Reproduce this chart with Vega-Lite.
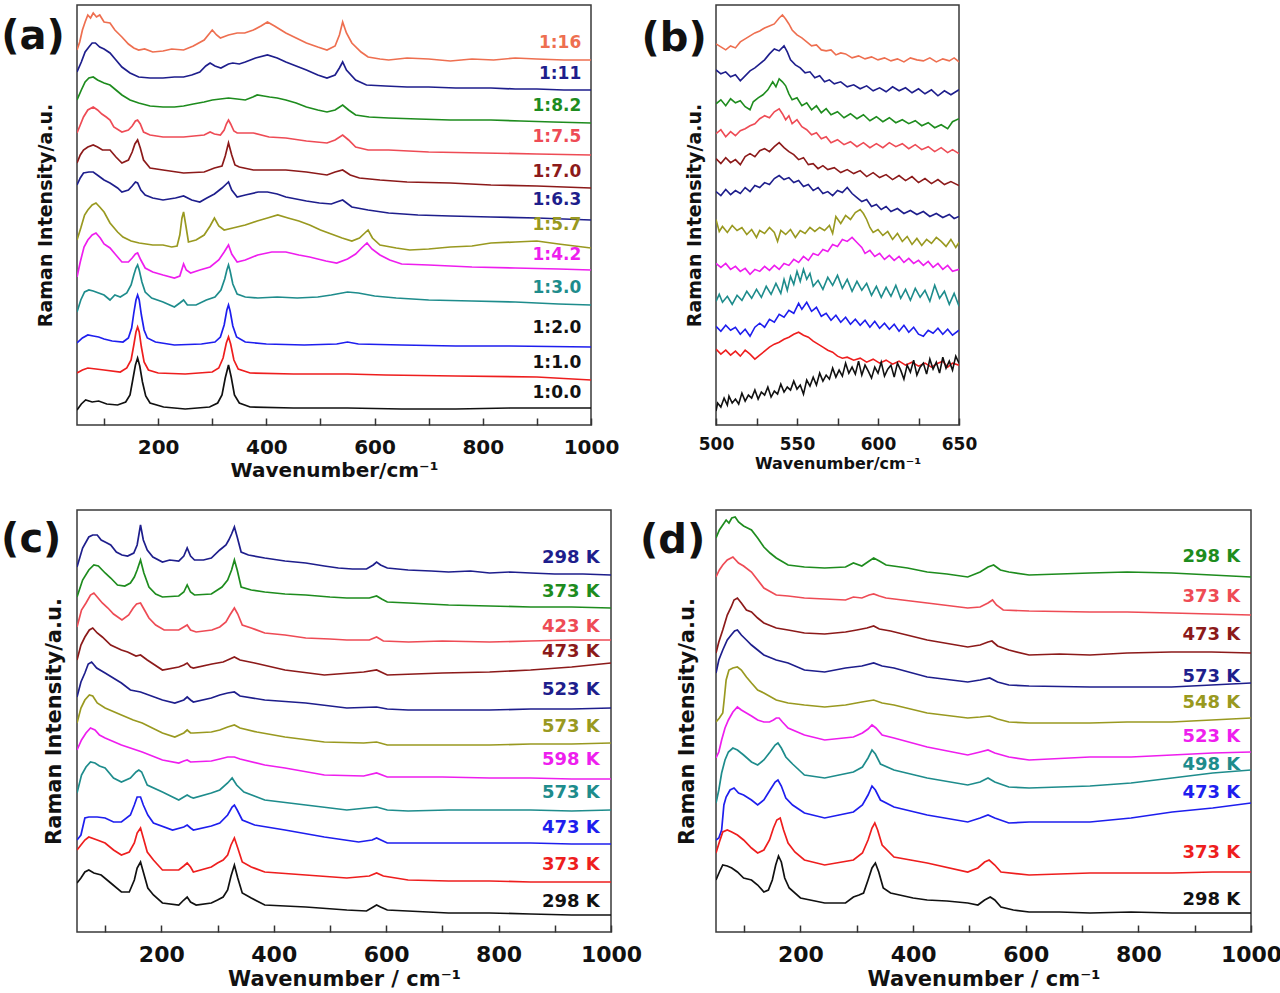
{
"$schema":"https://vega.github.io/schema/vega-lite/v6.json",
"background":"white",
"padding":{"left":0,"top":4,"right":2,"bottom":2},
"columns":2,
"spacing":{"row":85,"column":105},
"bounds":"flush",
"resolve":{"scale":{"stroke":"independent","fill":"independent"}},
"datasets":{
"A":[
{"s":"a01","x":50,"y":375},{"s":"a01","x":55,"y":383},{"s":"a01","x":60,"y":395},{"s":"a01","x":65,"y":403},{"s":"a01","x":70,"y":410},{"s":"a01","x":75,"y":407},{"s":"a01","x":80,"y":412},{"s":"a01","x":86,"y":408},{"s":"a01","x":92,"y":410},{"s":"a01","x":100,"y":403},{"s":"a01","x":111,"y":402},{"s":"a01","x":120,"y":395},{"s":"a01","x":133,"y":388},{"s":"a01","x":145,"y":381},{"s":"a01","x":155,"y":377},{"s":"a01","x":164,"y":375},{"s":"a01","x":175,"y":376},{"s":"a01","x":190,"y":373},{"s":"a01","x":209,"y":374},{"s":"a01","x":225,"y":376},{"s":"a01","x":247,"y":375},{"s":"a01","x":265,"y":379},{"s":"a01","x":285,"y":385},{"s":"a01","x":300,"y":395},{"s":"a01","x":308,"y":390},{"s":"a01","x":315,"y":387},{"s":"a01","x":330,"y":390},{"s":"a01","x":346,"y":392},{"s":"a01","x":360,"y":392},{"s":"a01","x":376,"y":395},{"s":"a01","x":390,"y":399},{"s":"a01","x":402,"y":403},{"s":"a01","x":415,"y":399},{"s":"a01","x":436,"y":392},{"s":"a01","x":455,"y":387},{"s":"a01","x":474,"y":382},{"s":"a01","x":495,"y":378},{"s":"a01","x":512,"y":375},{"s":"a01","x":527,"y":379},{"s":"a01","x":535,"y":390},{"s":"a01","x":541,"y":403},{"s":"a01","x":548,"y":392},{"s":"a01","x":558,"y":382},{"s":"a01","x":575,"y":373},{"s":"a01","x":588,"y":368},{"s":"a01","x":610,"y":366},{"s":"a01","x":626,"y":365},{"s":"a01","x":660,"y":367},{"s":"a01","x":700,"y":366},{"s":"a01","x":740,"y":364},{"s":"a01","x":780,"y":366},{"s":"a01","x":820,"y":365},{"s":"a01","x":860,"y":367},{"s":"a01","x":900,"y":366},{"s":"a01","x":950,"y":365},{"s":"a01","x":1000,"y":365},
{"s":"a02","x":50,"y":353},{"s":"a02","x":58,"y":363},{"s":"a02","x":65,"y":373},{"s":"a02","x":72,"y":378},{"s":"a02","x":78,"y":382},{"s":"a02","x":84,"y":382},{"s":"a02","x":92,"y":378},{"s":"a02","x":100,"y":376},{"s":"a02","x":111,"y":372},{"s":"a02","x":122,"y":365},{"s":"a02","x":133,"y":358},{"s":"a02","x":148,"y":352},{"s":"a02","x":164,"y":348},{"s":"a02","x":185,"y":347},{"s":"a02","x":209,"y":347},{"s":"a02","x":230,"y":348},{"s":"a02","x":247,"y":348},{"s":"a02","x":262,"y":350},{"s":"a02","x":277,"y":353},{"s":"a02","x":288,"y":359},{"s":"a02","x":296,"y":362},{"s":"a02","x":305,"y":359},{"s":"a02","x":316,"y":357},{"s":"a02","x":330,"y":361},{"s":"a02","x":338,"y":362},{"s":"a02","x":350,"y":361},{"s":"a02","x":361,"y":363},{"s":"a02","x":380,"y":367},{"s":"a02","x":402,"y":370},{"s":"a02","x":420,"y":367},{"s":"a02","x":436,"y":363},{"s":"a02","x":455,"y":359},{"s":"a02","x":474,"y":355},{"s":"a02","x":495,"y":350},{"s":"a02","x":512,"y":347},{"s":"a02","x":527,"y":350},{"s":"a02","x":535,"y":357},{"s":"a02","x":541,"y":363},{"s":"a02","x":548,"y":355},{"s":"a02","x":565,"y":345},{"s":"a02","x":585,"y":340},{"s":"a02","x":620,"y":339},{"s":"a02","x":660,"y":338},{"s":"a02","x":700,"y":338},{"s":"a02","x":750,"y":337},{"s":"a02","x":815,"y":337},{"s":"a02","x":860,"y":336},{"s":"a02","x":900,"y":336},{"s":"a02","x":950,"y":335},{"s":"a02","x":1000,"y":335},
{"s":"a03","x":50,"y":325},{"s":"a03","x":58,"y":335},{"s":"a03","x":65,"y":343},{"s":"a03","x":72,"y":347},{"s":"a03","x":80,"y":348},{"s":"a03","x":88,"y":345},{"s":"a03","x":100,"y":342},{"s":"a03","x":111,"y":340},{"s":"a03","x":122,"y":335},{"s":"a03","x":133,"y":330},{"s":"a03","x":148,"y":325},{"s":"a03","x":164,"y":322},{"s":"a03","x":185,"y":319},{"s":"a03","x":209,"y":318},{"s":"a03","x":230,"y":318},{"s":"a03","x":247,"y":319},{"s":"a03","x":265,"y":321},{"s":"a03","x":285,"y":323},{"s":"a03","x":300,"y":325},{"s":"a03","x":315,"y":326},{"s":"a03","x":330,"y":327},{"s":"a03","x":346,"y":326},{"s":"a03","x":361,"y":325},{"s":"a03","x":375,"y":328},{"s":"a03","x":383,"y":330},{"s":"a03","x":395,"y":329},{"s":"a03","x":406,"y":328},{"s":"a03","x":420,"y":327},{"s":"a03","x":436,"y":325},{"s":"a03","x":455,"y":322},{"s":"a03","x":474,"y":318},{"s":"a03","x":495,"y":315},{"s":"a03","x":512,"y":313},{"s":"a03","x":527,"y":315},{"s":"a03","x":541,"y":320},{"s":"a03","x":552,"y":315},{"s":"a03","x":565,"y":310},{"s":"a03","x":590,"y":308},{"s":"a03","x":626,"y":307},{"s":"a03","x":680,"y":306},{"s":"a03","x":740,"y":305},{"s":"a03","x":815,"y":305},{"s":"a03","x":870,"y":304},{"s":"a03","x":930,"y":303},{"s":"a03","x":1000,"y":302},
{"s":"a04","x":50,"y":292},{"s":"a04","x":56,"y":300},{"s":"a04","x":62,"y":308},{"s":"a04","x":70,"y":315},{"s":"a04","x":80,"y":318},{"s":"a04","x":88,"y":315},{"s":"a04","x":96,"y":311},{"s":"a04","x":104,"y":308},{"s":"a04","x":111,"y":305},{"s":"a04","x":118,"y":298},{"s":"a04","x":133,"y":293},{"s":"a04","x":145,"y":295},{"s":"a04","x":152,"y":299},{"s":"a04","x":158,"y":304},{"s":"a04","x":162,"y":305},{"s":"a04","x":167,"y":301},{"s":"a04","x":173,"y":293},{"s":"a04","x":185,"y":290},{"s":"a04","x":209,"y":288},{"s":"a04","x":247,"y":288},{"s":"a04","x":285,"y":290},{"s":"a04","x":296,"y":293},{"s":"a04","x":304,"y":291},{"s":"a04","x":315,"y":290},{"s":"a04","x":322,"y":295},{"s":"a04","x":326,"y":301},{"s":"a04","x":330,"y":305},{"s":"a04","x":334,"y":301},{"s":"a04","x":340,"y":294},{"s":"a04","x":346,"y":292},{"s":"a04","x":376,"y":292},{"s":"a04","x":405,"y":288},{"s":"a04","x":436,"y":287},{"s":"a04","x":474,"y":284},{"s":"a04","x":512,"y":282},{"s":"a04","x":527,"y":285},{"s":"a04","x":541,"y":290},{"s":"a04","x":552,"y":285},{"s":"a04","x":565,"y":278},{"s":"a04","x":588,"y":275},{"s":"a04","x":626,"y":275},{"s":"a04","x":700,"y":273},{"s":"a04","x":800,"y":272},{"s":"a04","x":900,"y":271},{"s":"a04","x":1000,"y":270},
{"s":"a05","x":50,"y":262},{"s":"a05","x":56,"y":270},{"s":"a05","x":62,"y":275},{"s":"a05","x":70,"y":278},{"s":"a05","x":80,"y":280},{"s":"a05","x":88,"y":278},{"s":"a05","x":97,"y":275},{"s":"a05","x":111,"y":275},{"s":"a05","x":122,"y":268},{"s":"a05","x":133,"y":262},{"s":"a05","x":145,"y":265},{"s":"a05","x":152,"y":273},{"s":"a05","x":157,"y":281},{"s":"a05","x":162,"y":285},{"s":"a05","x":167,"y":277},{"s":"a05","x":173,"y":265},{"s":"a05","x":185,"y":257},{"s":"a05","x":209,"y":255},{"s":"a05","x":247,"y":252},{"s":"a05","x":285,"y":253},{"s":"a05","x":304,"y":257},{"s":"a05","x":318,"y":259},{"s":"a05","x":324,"y":269},{"s":"a05","x":330,"y":282},{"s":"a05","x":336,"y":270},{"s":"a05","x":342,"y":260},{"s":"a05","x":350,"y":258},{"s":"a05","x":376,"y":255},{"s":"a05","x":402,"y":255},{"s":"a05","x":436,"y":255},{"s":"a05","x":474,"y":253},{"s":"a05","x":512,"y":250},{"s":"a05","x":527,"y":253},{"s":"a05","x":541,"y":255},{"s":"a05","x":555,"y":250},{"s":"a05","x":572,"y":247},{"s":"a05","x":610,"y":245},{"s":"a05","x":660,"y":243},{"s":"a05","x":740,"y":242},{"s":"a05","x":815,"y":240},{"s":"a05","x":900,"y":239},{"s":"a05","x":1000,"y":237},
{"s":"a06","x":50,"y":240},{"s":"a06","x":56,"y":247},{"s":"a06","x":62,"y":252},{"s":"a06","x":72,"y":253},{"s":"a06","x":80,"y":253},{"s":"a06","x":90,"y":249},{"s":"a06","x":100,"y":245},{"s":"a06","x":111,"y":242},{"s":"a06","x":125,"y":237},{"s":"a06","x":133,"y":233},{"s":"a06","x":145,"y":235},{"s":"a06","x":152,"y":239},{"s":"a06","x":158,"y":243},{"s":"a06","x":162,"y":242},{"s":"a06","x":168,"y":235},{"s":"a06","x":176,"y":230},{"s":"a06","x":190,"y":227},{"s":"a06","x":209,"y":225},{"s":"a06","x":232,"y":227},{"s":"a06","x":247,"y":229},{"s":"a06","x":262,"y":225},{"s":"a06","x":277,"y":223},{"s":"a06","x":290,"y":227},{"s":"a06","x":304,"y":231},{"s":"a06","x":318,"y":237},{"s":"a06","x":326,"y":241},{"s":"a06","x":330,"y":243},{"s":"a06","x":336,"y":235},{"s":"a06","x":346,"y":228},{"s":"a06","x":361,"y":230},{"s":"a06","x":385,"y":233},{"s":"a06","x":402,"y":233},{"s":"a06","x":420,"y":231},{"s":"a06","x":436,"y":228},{"s":"a06","x":474,"y":224},{"s":"a06","x":498,"y":222},{"s":"a06","x":520,"y":221},{"s":"a06","x":530,"y":223},{"s":"a06","x":541,"y":225},{"s":"a06","x":558,"y":218},{"s":"a06","x":588,"y":215},{"s":"a06","x":626,"y":212},{"s":"a06","x":680,"y":210},{"s":"a06","x":740,"y":209},{"s":"a06","x":815,"y":208},{"s":"a06","x":900,"y":207},{"s":"a06","x":1000,"y":205},
{"s":"a07","x":50,"y":185},{"s":"a07","x":57,"y":197},{"s":"a07","x":64,"y":210},{"s":"a07","x":70,"y":215},{"s":"a07","x":78,"y":220},{"s":"a07","x":85,"y":222},{"s":"a07","x":92,"y":218},{"s":"a07","x":100,"y":213},{"s":"a07","x":111,"y":202},{"s":"a07","x":125,"y":193},{"s":"a07","x":135,"y":188},{"s":"a07","x":150,"y":184},{"s":"a07","x":165,"y":182},{"s":"a07","x":190,"y":180},{"s":"a07","x":209,"y":180},{"s":"a07","x":225,"y":178},{"s":"a07","x":235,"y":179},{"s":"a07","x":240,"y":190},{"s":"a07","x":244,"y":207},{"s":"a07","x":247,"y":213},{"s":"a07","x":251,"y":200},{"s":"a07","x":256,"y":183},{"s":"a07","x":270,"y":185},{"s":"a07","x":285,"y":190},{"s":"a07","x":296,"y":199},{"s":"a07","x":304,"y":207},{"s":"a07","x":312,"y":199},{"s":"a07","x":322,"y":195},{"s":"a07","x":338,"y":197},{"s":"a07","x":361,"y":200},{"s":"a07","x":383,"y":204},{"s":"a07","x":402,"y":207},{"s":"a07","x":421,"y":210},{"s":"a07","x":440,"y":207},{"s":"a07","x":460,"y":204},{"s":"a07","x":480,"y":200},{"s":"a07","x":500,"y":195},{"s":"a07","x":520,"y":191},{"s":"a07","x":540,"y":187},{"s":"a07","x":558,"y":184},{"s":"a07","x":572,"y":187},{"s":"a07","x":582,"y":192},{"s":"a07","x":588,"y":195},{"s":"a07","x":596,"y":187},{"s":"a07","x":610,"y":180},{"s":"a07","x":640,"y":177},{"s":"a07","x":665,"y":175},{"s":"a07","x":700,"y":176},{"s":"a07","x":740,"y":178},{"s":"a07","x":780,"y":179},{"s":"a07","x":815,"y":182},{"s":"a07","x":860,"y":183},{"s":"a07","x":900,"y":184},{"s":"a07","x":940,"y":181},{"s":"a07","x":970,"y":179},{"s":"a07","x":1000,"y":177},
{"s":"a08","x":50,"y":148},{"s":"a08","x":56,"y":163},{"s":"a08","x":63,"y":178},{"s":"a08","x":70,"y":185},{"s":"a08","x":78,"y":190},{"s":"a08","x":85,"y":192},{"s":"a08","x":93,"y":187},{"s":"a08","x":100,"y":181},{"s":"a08","x":111,"y":177},{"s":"a08","x":122,"y":170},{"s":"a08","x":133,"y":163},{"s":"a08","x":145,"y":163},{"s":"a08","x":152,"y":167},{"s":"a08","x":158,"y":171},{"s":"a08","x":162,"y":172},{"s":"a08","x":168,"y":165},{"s":"a08","x":176,"y":157},{"s":"a08","x":190,"y":153},{"s":"a08","x":209,"y":150},{"s":"a08","x":230,"y":147},{"s":"a08","x":240,"y":149},{"s":"a08","x":247,"y":161},{"s":"a08","x":252,"y":155},{"s":"a08","x":260,"y":152},{"s":"a08","x":277,"y":155},{"s":"a08","x":296,"y":158},{"s":"a08","x":312,"y":165},{"s":"a08","x":322,"y":173},{"s":"a08","x":330,"y":180},{"s":"a08","x":336,"y":171},{"s":"a08","x":346,"y":163},{"s":"a08","x":361,"y":165},{"s":"a08","x":384,"y":170},{"s":"a08","x":410,"y":173},{"s":"a08","x":436,"y":173},{"s":"a08","x":460,"y":170},{"s":"a08","x":480,"y":168},{"s":"a08","x":510,"y":164},{"s":"a08","x":530,"y":162},{"s":"a08","x":550,"y":166},{"s":"a08","x":565,"y":171},{"s":"a08","x":576,"y":177},{"s":"a08","x":586,"y":182},{"s":"a08","x":595,"y":176},{"s":"a08","x":610,"y":170},{"s":"a08","x":628,"y":165},{"s":"a08","x":650,"y":161},{"s":"a08","x":700,"y":160},{"s":"a08","x":740,"y":159},{"s":"a08","x":780,"y":158},{"s":"a08","x":860,"y":157},{"s":"a08","x":940,"y":156},{"s":"a08","x":1000,"y":155},
{"s":"a09","x":50,"y":113},{"s":"a09","x":57,"y":125},{"s":"a09","x":64,"y":133},{"s":"a09","x":72,"y":135},{"s":"a09","x":80,"y":134},{"s":"a09","x":90,"y":132},{"s":"a09","x":100,"y":130},{"s":"a09","x":111,"y":125},{"s":"a09","x":120,"y":130},{"s":"a09","x":130,"y":128},{"s":"a09","x":142,"y":132},{"s":"a09","x":150,"y":140},{"s":"a09","x":155,"y":150},{"s":"a09","x":159,"y":157},{"s":"a09","x":162,"y":160},{"s":"a09","x":165,"y":155},{"s":"a09","x":170,"y":143},{"s":"a09","x":176,"y":133},{"s":"a09","x":188,"y":127},{"s":"a09","x":209,"y":123},{"s":"a09","x":230,"y":118},{"s":"a09","x":240,"y":122},{"s":"a09","x":247,"y":125},{"s":"a09","x":254,"y":120},{"s":"a09","x":270,"y":120},{"s":"a09","x":289,"y":125},{"s":"a09","x":305,"y":128},{"s":"a09","x":316,"y":135},{"s":"a09","x":323,"y":146},{"s":"a09","x":327,"y":155},{"s":"a09","x":330,"y":160},{"s":"a09","x":333,"y":154},{"s":"a09","x":338,"y":141},{"s":"a09","x":346,"y":131},{"s":"a09","x":361,"y":128},{"s":"a09","x":384,"y":127},{"s":"a09","x":420,"y":128},{"s":"a09","x":457,"y":127},{"s":"a09","x":495,"y":128},{"s":"a09","x":520,"y":130},{"s":"a09","x":550,"y":133},{"s":"a09","x":570,"y":132},{"s":"a09","x":600,"y":129},{"s":"a09","x":640,"y":127},{"s":"a09","x":700,"y":125},{"s":"a09","x":780,"y":124},{"s":"a09","x":860,"y":123},{"s":"a09","x":940,"y":121},{"s":"a09","x":1000,"y":120},
{"s":"a10","x":50,"y":82},{"s":"a10","x":60,"y":87},{"s":"a10","x":70,"y":90},{"s":"a10","x":80,"y":89},{"s":"a10","x":90,"y":88},{"s":"a10","x":100,"y":86},{"s":"a10","x":115,"y":84},{"s":"a10","x":135,"y":83},{"s":"a10","x":145,"y":87},{"s":"a10","x":151,"y":97},{"s":"a10","x":155,"y":112},{"s":"a10","x":159,"y":125},{"s":"a10","x":162,"y":130},{"s":"a10","x":165,"y":125},{"s":"a10","x":169,"y":110},{"s":"a10","x":174,"y":95},{"s":"a10","x":180,"y":87},{"s":"a10","x":195,"y":83},{"s":"a10","x":230,"y":80},{"s":"a10","x":280,"y":81},{"s":"a10","x":305,"y":83},{"s":"a10","x":315,"y":88},{"s":"a10","x":322,"y":100},{"s":"a10","x":327,"y":115},{"s":"a10","x":330,"y":120},{"s":"a10","x":333,"y":114},{"s":"a10","x":338,"y":99},{"s":"a10","x":345,"y":88},{"s":"a10","x":361,"y":83},{"s":"a10","x":400,"y":81},{"s":"a10","x":470,"y":80},{"s":"a10","x":530,"y":81},{"s":"a10","x":550,"y":83},{"s":"a10","x":570,"y":81},{"s":"a10","x":650,"y":80},{"s":"a10","x":750,"y":79},{"s":"a10","x":850,"y":79},{"s":"a10","x":1000,"y":78},
{"s":"a11","x":50,"y":52},{"s":"a11","x":60,"y":55},{"s":"a11","x":70,"y":57},{"s":"a11","x":85,"y":56},{"s":"a11","x":100,"y":55},{"s":"a11","x":130,"y":53},{"s":"a11","x":142,"y":57},{"s":"a11","x":150,"y":65},{"s":"a11","x":155,"y":80},{"s":"a11","x":159,"y":93},{"s":"a11","x":162,"y":98},{"s":"a11","x":165,"y":93},{"s":"a11","x":169,"y":78},{"s":"a11","x":174,"y":63},{"s":"a11","x":182,"y":55},{"s":"a11","x":200,"y":52},{"s":"a11","x":250,"y":51},{"s":"a11","x":300,"y":53},{"s":"a11","x":312,"y":57},{"s":"a11","x":320,"y":67},{"s":"a11","x":326,"y":82},{"s":"a11","x":330,"y":88},{"s":"a11","x":334,"y":81},{"s":"a11","x":340,"y":65},{"s":"a11","x":348,"y":56},{"s":"a11","x":370,"y":52},{"s":"a11","x":450,"y":51},{"s":"a11","x":550,"y":51},{"s":"a11","x":620,"y":50},{"s":"a11","x":750,"y":49},{"s":"a11","x":900,"y":48},{"s":"a11","x":1000,"y":45},
{"s":"a12","x":50,"y":15},{"s":"a12","x":58,"y":21},{"s":"a12","x":66,"y":25},{"s":"a12","x":78,"y":23},{"s":"a12","x":90,"y":24},{"s":"a12","x":105,"y":21},{"s":"a12","x":125,"y":20},{"s":"a12","x":140,"y":23},{"s":"a12","x":148,"y":30},{"s":"a12","x":153,"y":45},{"s":"a12","x":158,"y":60},{"s":"a12","x":162,"y":67},{"s":"a12","x":166,"y":59},{"s":"a12","x":171,"y":43},{"s":"a12","x":177,"y":29},{"s":"a12","x":185,"y":22},{"s":"a12","x":210,"y":18},{"s":"a12","x":250,"y":16},{"s":"a12","x":295,"y":18},{"s":"a12","x":310,"y":22},{"s":"a12","x":318,"y":30},{"s":"a12","x":324,"y":47},{"s":"a12","x":330,"y":60},{"s":"a12","x":335,"y":48},{"s":"a12","x":341,"y":30},{"s":"a12","x":350,"y":22},{"s":"a12","x":370,"y":18},{"s":"a12","x":450,"y":17},{"s":"a12","x":550,"y":17},{"s":"a12","x":650,"y":16},{"s":"a12","x":750,"y":16},{"s":"a12","x":850,"y":17},{"s":"a12","x":1000,"y":17}
],
"AL":[
{"s":"a01","x":982,"y":382,"t":"1:16"},{"s":"a02","x":982,"y":351,"t":"1:11"},{"s":"a03","x":982,"y":319,"t":"1:8.2"},{"s":"a04","x":982,"y":288,"t":"1:7.5"},{"s":"a05","x":982,"y":253,"t":"1:7.0"},{"s":"a06","x":982,"y":225,"t":"1:6.3"},{"s":"a07","x":982,"y":200,"t":"1:5.7"},{"s":"a08","x":982,"y":170,"t":"1:4.2"},{"s":"a09","x":982,"y":137,"t":"1:3.0"},{"s":"a10","x":982,"y":97,"t":"1:2.0"},{"s":"a11","x":982,"y":62,"t":"1:1.0"},{"s":"a12","x":982,"y":32,"t":"1:0.0"}
],
"B":[
{"s":"b01","x":500,"y":382},{"s":"b01","x":503,"y":379},{"s":"b01","x":506,"y":376},{"s":"b01","x":509,"y":380},{"s":"b01","x":512,"y":378},{"s":"b01","x":515,"y":384},{"s":"b01","x":518,"y":387},{"s":"b01","x":521,"y":390},{"s":"b01","x":524,"y":393},{"s":"b01","x":527,"y":395},{"s":"b01","x":530,"y":398},{"s":"b01","x":533,"y":400},{"s":"b01","x":536,"y":402},{"s":"b01","x":539,"y":408},{"s":"b01","x":541,"y":411},{"s":"b01","x":543,"y":407},{"s":"b01","x":545,"y":402},{"s":"b01","x":547,"y":396},{"s":"b01","x":550,"y":391},{"s":"b01","x":553,"y":388},{"s":"b01","x":556,"y":384},{"s":"b01","x":559,"y":380},{"s":"b01","x":562,"y":381},{"s":"b01","x":565,"y":376},{"s":"b01","x":568,"y":375},{"s":"b01","x":571,"y":376},{"s":"b01","x":574,"y":371},{"s":"b01","x":577,"y":373},{"s":"b01","x":580,"y":372},{"s":"b01","x":584,"y":368},{"s":"b01","x":588,"y":370},{"s":"b01","x":592,"y":367},{"s":"b01","x":596,"y":369},{"s":"b01","x":600,"y":366},{"s":"b01","x":604,"y":368},{"s":"b01","x":608,"y":365},{"s":"b01","x":612,"y":367},{"s":"b01","x":616,"y":364},{"s":"b01","x":620,"y":368},{"s":"b01","x":624,"y":366},{"s":"b01","x":628,"y":365},{"s":"b01","x":632,"y":368},{"s":"b01","x":636,"y":364},{"s":"b01","x":640,"y":367},{"s":"b01","x":644,"y":365},{"s":"b01","x":647,"y":368},{"s":"b01","x":650,"y":364},
{"s":"b02","x":500,"y":356},{"s":"b02","x":503,"y":352},{"s":"b02","x":506,"y":354},{"s":"b02","x":509,"y":349},{"s":"b02","x":512,"y":351},{"s":"b02","x":515,"y":345},{"s":"b02","x":518,"y":350},{"s":"b02","x":521,"y":355},{"s":"b02","x":524,"y":358},{"s":"b02","x":527,"y":362},{"s":"b02","x":530,"y":366},{"s":"b02","x":533,"y":372},{"s":"b02","x":536,"y":377},{"s":"b02","x":539,"y":375},{"s":"b02","x":542,"y":380},{"s":"b02","x":544,"y":374},{"s":"b02","x":546,"y":366},{"s":"b02","x":549,"y":361},{"s":"b02","x":552,"y":358},{"s":"b02","x":555,"y":353},{"s":"b02","x":558,"y":354},{"s":"b02","x":561,"y":348},{"s":"b02","x":564,"y":350},{"s":"b02","x":567,"y":344},{"s":"b02","x":570,"y":346},{"s":"b02","x":573,"y":342},{"s":"b02","x":577,"y":344},{"s":"b02","x":581,"y":339},{"s":"b02","x":585,"y":341},{"s":"b02","x":589,"y":337},{"s":"b02","x":593,"y":340},{"s":"b02","x":597,"y":335},{"s":"b02","x":601,"y":338},{"s":"b02","x":605,"y":334},{"s":"b02","x":609,"y":339},{"s":"b02","x":613,"y":335},{"s":"b02","x":617,"y":338},{"s":"b02","x":621,"y":333},{"s":"b02","x":625,"y":337},{"s":"b02","x":629,"y":332},{"s":"b02","x":633,"y":336},{"s":"b02","x":637,"y":330},{"s":"b02","x":641,"y":335},{"s":"b02","x":645,"y":331},{"s":"b02","x":650,"y":336},
{"s":"b03","x":500,"y":322},{"s":"b03","x":503,"y":326},{"s":"b03","x":506,"y":320},{"s":"b03","x":509,"y":327},{"s":"b03","x":512,"y":323},{"s":"b03","x":515,"y":325},{"s":"b03","x":518,"y":319},{"s":"b03","x":521,"y":316},{"s":"b03","x":523,"y":324},{"s":"b03","x":526,"y":328},{"s":"b03","x":529,"y":331},{"s":"b03","x":532,"y":336},{"s":"b03","x":535,"y":344},{"s":"b03","x":537,"y":339},{"s":"b03","x":539,"y":347},{"s":"b03","x":541,"y":344},{"s":"b03","x":543,"y":340},{"s":"b03","x":545,"y":332},{"s":"b03","x":547,"y":326},{"s":"b03","x":550,"y":328},{"s":"b03","x":553,"y":320},{"s":"b03","x":556,"y":323},{"s":"b03","x":559,"y":316},{"s":"b03","x":562,"y":320},{"s":"b03","x":565,"y":313},{"s":"b03","x":568,"y":317},{"s":"b03","x":571,"y":311},{"s":"b03","x":575,"y":314},{"s":"b03","x":579,"y":308},{"s":"b03","x":583,"y":312},{"s":"b03","x":587,"y":307},{"s":"b03","x":591,"y":311},{"s":"b03","x":595,"y":305},{"s":"b03","x":599,"y":309},{"s":"b03","x":603,"y":304},{"s":"b03","x":607,"y":308},{"s":"b03","x":611,"y":303},{"s":"b03","x":615,"y":306},{"s":"b03","x":619,"y":302},{"s":"b03","x":623,"y":305},{"s":"b03","x":627,"y":300},{"s":"b03","x":631,"y":303},{"s":"b03","x":635,"y":298},{"s":"b03","x":639,"y":301},{"s":"b03","x":643,"y":297},{"s":"b03","x":646,"y":304},{"s":"b03","x":650,"y":307},
{"s":"b04","x":500,"y":292},{"s":"b04","x":503,"y":296},{"s":"b04","x":506,"y":289},{"s":"b04","x":509,"y":294},{"s":"b04","x":512,"y":290},{"s":"b04","x":515,"y":295},{"s":"b04","x":518,"y":297},{"s":"b04","x":521,"y":300},{"s":"b04","x":524,"y":302},{"s":"b04","x":527,"y":307},{"s":"b04","x":530,"y":310},{"s":"b04","x":533,"y":308},{"s":"b04","x":536,"y":314},{"s":"b04","x":539,"y":317},{"s":"b04","x":541,"y":312},{"s":"b04","x":543,"y":306},{"s":"b04","x":545,"y":310},{"s":"b04","x":547,"y":302},{"s":"b04","x":550,"y":306},{"s":"b04","x":553,"y":299},{"s":"b04","x":556,"y":296},{"s":"b04","x":559,"y":291},{"s":"b04","x":562,"y":293},{"s":"b04","x":565,"y":287},{"s":"b04","x":568,"y":289},{"s":"b04","x":571,"y":283},{"s":"b04","x":575,"y":286},{"s":"b04","x":579,"y":281},{"s":"b04","x":583,"y":284},{"s":"b04","x":587,"y":279},{"s":"b04","x":591,"y":283},{"s":"b04","x":595,"y":278},{"s":"b04","x":599,"y":282},{"s":"b04","x":603,"y":278},{"s":"b04","x":607,"y":283},{"s":"b04","x":611,"y":279},{"s":"b04","x":615,"y":282},{"s":"b04","x":619,"y":277},{"s":"b04","x":623,"y":281},{"s":"b04","x":627,"y":276},{"s":"b04","x":631,"y":279},{"s":"b04","x":635,"y":274},{"s":"b04","x":639,"y":278},{"s":"b04","x":643,"y":273},{"s":"b04","x":646,"y":276},{"s":"b04","x":650,"y":272},
{"s":"b05","x":500,"y":267},{"s":"b05","x":503,"y":262},{"s":"b05","x":506,"y":268},{"s":"b05","x":509,"y":263},{"s":"b05","x":512,"y":266},{"s":"b05","x":515,"y":261},{"s":"b05","x":518,"y":269},{"s":"b05","x":521,"y":272},{"s":"b05","x":524,"y":269},{"s":"b05","x":527,"y":275},{"s":"b05","x":530,"y":277},{"s":"b05","x":533,"y":274},{"s":"b05","x":536,"y":279},{"s":"b05","x":539,"y":283},{"s":"b05","x":542,"y":278},{"s":"b05","x":545,"y":274},{"s":"b05","x":548,"y":271},{"s":"b05","x":551,"y":266},{"s":"b05","x":554,"y":268},{"s":"b05","x":557,"y":261},{"s":"b05","x":560,"y":262},{"s":"b05","x":563,"y":257},{"s":"b05","x":566,"y":260},{"s":"b05","x":569,"y":256},{"s":"b05","x":573,"y":258},{"s":"b05","x":577,"y":253},{"s":"b05","x":581,"y":256},{"s":"b05","x":585,"y":252},{"s":"b05","x":589,"y":255},{"s":"b05","x":593,"y":249},{"s":"b05","x":597,"y":253},{"s":"b05","x":601,"y":248},{"s":"b05","x":605,"y":251},{"s":"b05","x":609,"y":246},{"s":"b05","x":613,"y":250},{"s":"b05","x":617,"y":245},{"s":"b05","x":621,"y":249},{"s":"b05","x":625,"y":243},{"s":"b05","x":629,"y":247},{"s":"b05","x":633,"y":242},{"s":"b05","x":637,"y":246},{"s":"b05","x":641,"y":241},{"s":"b05","x":645,"y":244},{"s":"b05","x":650,"y":240},
{"s":"b06","x":500,"y":234},{"s":"b06","x":503,"y":230},{"s":"b06","x":506,"y":236},{"s":"b06","x":509,"y":231},{"s":"b06","x":512,"y":235},{"s":"b06","x":515,"y":232},{"s":"b06","x":518,"y":238},{"s":"b06","x":521,"y":234},{"s":"b06","x":524,"y":240},{"s":"b06","x":527,"y":238},{"s":"b06","x":530,"y":243},{"s":"b06","x":533,"y":241},{"s":"b06","x":536,"y":247},{"s":"b06","x":539,"y":250},{"s":"b06","x":542,"y":246},{"s":"b06","x":545,"y":248},{"s":"b06","x":548,"y":243},{"s":"b06","x":551,"y":245},{"s":"b06","x":554,"y":239},{"s":"b06","x":557,"y":241},{"s":"b06","x":560,"y":235},{"s":"b06","x":563,"y":238},{"s":"b06","x":566,"y":232},{"s":"b06","x":569,"y":234},{"s":"b06","x":572,"y":230},{"s":"b06","x":575,"y":235},{"s":"b06","x":578,"y":233},{"s":"b06","x":581,"y":238},{"s":"b06","x":584,"y":232},{"s":"b06","x":587,"y":228},{"s":"b06","x":590,"y":224},{"s":"b06","x":593,"y":226},{"s":"b06","x":596,"y":219},{"s":"b06","x":599,"y":221},{"s":"b06","x":602,"y":216},{"s":"b06","x":605,"y":219},{"s":"b06","x":608,"y":214},{"s":"b06","x":612,"y":217},{"s":"b06","x":616,"y":212},{"s":"b06","x":620,"y":215},{"s":"b06","x":624,"y":211},{"s":"b06","x":628,"y":214},{"s":"b06","x":632,"y":209},{"s":"b06","x":636,"y":212},{"s":"b06","x":640,"y":208},{"s":"b06","x":644,"y":211},{"s":"b06","x":647,"y":207},{"s":"b06","x":650,"y":209},
{"s":"b07","x":500,"y":206},{"s":"b07","x":502,"y":194},{"s":"b07","x":504,"y":199},{"s":"b07","x":507,"y":193},{"s":"b07","x":510,"y":200},{"s":"b07","x":513,"y":195},{"s":"b07","x":516,"y":198},{"s":"b07","x":519,"y":191},{"s":"b07","x":522,"y":196},{"s":"b07","x":525,"y":188},{"s":"b07","x":527,"y":195},{"s":"b07","x":530,"y":192},{"s":"b07","x":533,"y":198},{"s":"b07","x":536,"y":193},{"s":"b07","x":538,"y":184},{"s":"b07","x":540,"y":195},{"s":"b07","x":543,"y":191},{"s":"b07","x":546,"y":196},{"s":"b07","x":549,"y":188},{"s":"b07","x":552,"y":195},{"s":"b07","x":555,"y":192},{"s":"b07","x":558,"y":198},{"s":"b07","x":561,"y":194},{"s":"b07","x":564,"y":198},{"s":"b07","x":567,"y":195},{"s":"b07","x":570,"y":200},{"s":"b07","x":572,"y":192},{"s":"b07","x":574,"y":209},{"s":"b07","x":577,"y":202},{"s":"b07","x":580,"y":210},{"s":"b07","x":583,"y":206},{"s":"b07","x":586,"y":213},{"s":"b07","x":589,"y":216},{"s":"b07","x":591,"y":212},{"s":"b07","x":593,"y":206},{"s":"b07","x":595,"y":198},{"s":"b07","x":597,"y":193},{"s":"b07","x":600,"y":196},{"s":"b07","x":603,"y":190},{"s":"b07","x":606,"y":194},{"s":"b07","x":609,"y":186},{"s":"b07","x":612,"y":192},{"s":"b07","x":615,"y":184},{"s":"b07","x":618,"y":189},{"s":"b07","x":621,"y":181},{"s":"b07","x":624,"y":187},{"s":"b07","x":627,"y":180},{"s":"b07","x":630,"y":186},{"s":"b07","x":633,"y":182},{"s":"b07","x":636,"y":188},{"s":"b07","x":639,"y":184},{"s":"b07","x":642,"y":179},{"s":"b07","x":645,"y":186},{"s":"b07","x":648,"y":178},{"s":"b07","x":650,"y":183},
{"s":"b08","x":500,"y":162},{"s":"b08","x":503,"y":158},{"s":"b08","x":506,"y":162},{"s":"b08","x":509,"y":156},{"s":"b08","x":512,"y":159},{"s":"b08","x":515,"y":154},{"s":"b08","x":518,"y":157},{"s":"b08","x":521,"y":151},{"s":"b08","x":524,"y":156},{"s":"b08","x":527,"y":154},{"s":"b08","x":530,"y":159},{"s":"b08","x":533,"y":155},{"s":"b08","x":536,"y":160},{"s":"b08","x":539,"y":156},{"s":"b08","x":542,"y":162},{"s":"b08","x":545,"y":160},{"s":"b08","x":548,"y":166},{"s":"b08","x":551,"y":163},{"s":"b08","x":554,"y":169},{"s":"b08","x":557,"y":165},{"s":"b08","x":560,"y":172},{"s":"b08","x":563,"y":170},{"s":"b08","x":566,"y":176},{"s":"b08","x":569,"y":174},{"s":"b08","x":572,"y":181},{"s":"b08","x":575,"y":179},{"s":"b08","x":578,"y":186},{"s":"b08","x":581,"y":184},{"s":"b08","x":584,"y":188},{"s":"b08","x":587,"y":183},{"s":"b08","x":590,"y":178},{"s":"b08","x":592,"y":172},{"s":"b08","x":595,"y":175},{"s":"b08","x":598,"y":169},{"s":"b08","x":601,"y":172},{"s":"b08","x":604,"y":166},{"s":"b08","x":607,"y":170},{"s":"b08","x":610,"y":165},{"s":"b08","x":613,"y":169},{"s":"b08","x":616,"y":163},{"s":"b08","x":619,"y":167},{"s":"b08","x":622,"y":162},{"s":"b08","x":625,"y":165},{"s":"b08","x":628,"y":160},{"s":"b08","x":631,"y":164},{"s":"b08","x":634,"y":158},{"s":"b08","x":637,"y":162},{"s":"b08","x":640,"y":156},{"s":"b08","x":643,"y":160},{"s":"b08","x":646,"y":154},{"s":"b08","x":650,"y":156},
{"s":"b09","x":500,"y":124},{"s":"b09","x":502,"y":131},{"s":"b09","x":504,"y":123},{"s":"b09","x":507,"y":129},{"s":"b09","x":510,"y":121},{"s":"b09","x":513,"y":130},{"s":"b09","x":516,"y":125},{"s":"b09","x":519,"y":134},{"s":"b09","x":522,"y":127},{"s":"b09","x":525,"y":136},{"s":"b09","x":528,"y":128},{"s":"b09","x":531,"y":139},{"s":"b09","x":534,"y":131},{"s":"b09","x":537,"y":142},{"s":"b09","x":540,"y":132},{"s":"b09","x":542,"y":146},{"s":"b09","x":544,"y":135},{"s":"b09","x":546,"y":149},{"s":"b09","x":548,"y":141},{"s":"b09","x":550,"y":154},{"s":"b09","x":552,"y":144},{"s":"b09","x":554,"y":156},{"s":"b09","x":556,"y":146},{"s":"b09","x":558,"y":152},{"s":"b09","x":560,"y":139},{"s":"b09","x":563,"y":145},{"s":"b09","x":566,"y":136},{"s":"b09","x":569,"y":148},{"s":"b09","x":572,"y":140},{"s":"b09","x":575,"y":150},{"s":"b09","x":578,"y":137},{"s":"b09","x":581,"y":146},{"s":"b09","x":584,"y":134},{"s":"b09","x":587,"y":144},{"s":"b09","x":590,"y":135},{"s":"b09","x":593,"y":142},{"s":"b09","x":596,"y":130},{"s":"b09","x":599,"y":139},{"s":"b09","x":602,"y":128},{"s":"b09","x":605,"y":138},{"s":"b09","x":608,"y":129},{"s":"b09","x":611,"y":140},{"s":"b09","x":614,"y":127},{"s":"b09","x":617,"y":136},{"s":"b09","x":620,"y":125},{"s":"b09","x":623,"y":137},{"s":"b09","x":626,"y":128},{"s":"b09","x":629,"y":135},{"s":"b09","x":632,"y":124},{"s":"b09","x":635,"y":140},{"s":"b09","x":638,"y":127},{"s":"b09","x":641,"y":134},{"s":"b09","x":644,"y":121},{"s":"b09","x":647,"y":132},{"s":"b09","x":650,"y":119},
{"s":"b10","x":500,"y":99},{"s":"b10","x":503,"y":94},{"s":"b10","x":506,"y":100},{"s":"b10","x":509,"y":95},{"s":"b10","x":512,"y":98},{"s":"b10","x":515,"y":91},{"s":"b10","x":518,"y":96},{"s":"b10","x":521,"y":89},{"s":"b10","x":524,"y":98},{"s":"b10","x":527,"y":102},{"s":"b10","x":530,"y":98},{"s":"b10","x":533,"y":106},{"s":"b10","x":536,"y":103},{"s":"b10","x":539,"y":111},{"s":"b10","x":542,"y":108},{"s":"b10","x":545,"y":115},{"s":"b10","x":548,"y":112},{"s":"b10","x":551,"y":122},{"s":"b10","x":553,"y":116},{"s":"b10","x":556,"y":123},{"s":"b10","x":559,"y":114},{"s":"b10","x":562,"y":118},{"s":"b10","x":565,"y":109},{"s":"b10","x":568,"y":112},{"s":"b10","x":571,"y":105},{"s":"b10","x":574,"y":110},{"s":"b10","x":577,"y":103},{"s":"b10","x":580,"y":108},{"s":"b10","x":583,"y":101},{"s":"b10","x":586,"y":106},{"s":"b10","x":589,"y":100},{"s":"b10","x":592,"y":105},{"s":"b10","x":595,"y":98},{"s":"b10","x":598,"y":104},{"s":"b10","x":601,"y":97},{"s":"b10","x":604,"y":102},{"s":"b10","x":607,"y":96},{"s":"b10","x":610,"y":101},{"s":"b10","x":613,"y":94},{"s":"b10","x":616,"y":100},{"s":"b10","x":619,"y":93},{"s":"b10","x":622,"y":98},{"s":"b10","x":625,"y":91},{"s":"b10","x":628,"y":89},{"s":"b10","x":631,"y":95},{"s":"b10","x":634,"y":92},{"s":"b10","x":637,"y":97},{"s":"b10","x":640,"y":91},{"s":"b10","x":643,"y":96},{"s":"b10","x":646,"y":90},{"s":"b10","x":650,"y":95},
{"s":"b11","x":500,"y":76},{"s":"b11","x":503,"y":71},{"s":"b11","x":506,"y":75},{"s":"b11","x":509,"y":70},{"s":"b11","x":512,"y":74},{"s":"b11","x":515,"y":69},{"s":"b11","x":518,"y":75},{"s":"b11","x":521,"y":71},{"s":"b11","x":524,"y":66},{"s":"b11","x":527,"y":70},{"s":"b11","x":530,"y":74},{"s":"b11","x":533,"y":78},{"s":"b11","x":536,"y":81},{"s":"b11","x":539,"y":83},{"s":"b11","x":542,"y":86},{"s":"b11","x":545,"y":88},{"s":"b11","x":548,"y":91},{"s":"b11","x":551,"y":93},{"s":"b11","x":554,"y":90},{"s":"b11","x":557,"y":88},{"s":"b11","x":560,"y":84},{"s":"b11","x":563,"y":81},{"s":"b11","x":566,"y":78},{"s":"b11","x":569,"y":75},{"s":"b11","x":572,"y":73},{"s":"b11","x":575,"y":69},{"s":"b11","x":578,"y":67},{"s":"b11","x":581,"y":68},{"s":"b11","x":585,"y":65},{"s":"b11","x":589,"y":67},{"s":"b11","x":593,"y":63},{"s":"b11","x":597,"y":66},{"s":"b11","x":601,"y":62},{"s":"b11","x":605,"y":65},{"s":"b11","x":609,"y":61},{"s":"b11","x":613,"y":64},{"s":"b11","x":617,"y":60},{"s":"b11","x":621,"y":63},{"s":"b11","x":625,"y":59},{"s":"b11","x":629,"y":62},{"s":"b11","x":633,"y":58},{"s":"b11","x":637,"y":62},{"s":"b11","x":640,"y":64},{"s":"b11","x":643,"y":58},{"s":"b11","x":646,"y":62},{"s":"b11","x":650,"y":60},
{"s":"b12","x":500,"y":14},{"s":"b12","x":501,"y":22},{"s":"b12","x":503,"y":18},{"s":"b12","x":505,"y":27},{"s":"b12","x":507,"y":20},{"s":"b12","x":508,"y":29},{"s":"b12","x":510,"y":22},{"s":"b12","x":512,"y":26},{"s":"b12","x":514,"y":21},{"s":"b12","x":516,"y":32},{"s":"b12","x":518,"y":24},{"s":"b12","x":520,"y":30},{"s":"b12","x":522,"y":27},{"s":"b12","x":524,"y":35},{"s":"b12","x":526,"y":26},{"s":"b12","x":528,"y":33},{"s":"b12","x":530,"y":30},{"s":"b12","x":532,"y":38},{"s":"b12","x":534,"y":28},{"s":"b12","x":536,"y":34},{"s":"b12","x":538,"y":31},{"s":"b12","x":540,"y":41},{"s":"b12","x":542,"y":33},{"s":"b12","x":544,"y":38},{"s":"b12","x":546,"y":35},{"s":"b12","x":548,"y":44},{"s":"b12","x":550,"y":36},{"s":"b12","x":552,"y":40},{"s":"b12","x":554,"y":31},{"s":"b12","x":556,"y":45},{"s":"b12","x":558,"y":39},{"s":"b12","x":560,"y":48},{"s":"b12","x":562,"y":40},{"s":"b12","x":564,"y":52},{"s":"b12","x":566,"y":44},{"s":"b12","x":568,"y":50},{"s":"b12","x":570,"y":46},{"s":"b12","x":572,"y":57},{"s":"b12","x":574,"y":48},{"s":"b12","x":576,"y":55},{"s":"b12","x":578,"y":49},{"s":"b12","x":580,"y":62},{"s":"b12","x":582,"y":52},{"s":"b12","x":584,"y":58},{"s":"b12","x":586,"y":51},{"s":"b12","x":588,"y":64},{"s":"b12","x":590,"y":50},{"s":"b12","x":592,"y":60},{"s":"b12","x":594,"y":54},{"s":"b12","x":596,"y":47},{"s":"b12","x":598,"y":58},{"s":"b12","x":600,"y":52},{"s":"b12","x":602,"y":63},{"s":"b12","x":604,"y":49},{"s":"b12","x":606,"y":56},{"s":"b12","x":608,"y":60},{"s":"b12","x":610,"y":48},{"s":"b12","x":612,"y":62},{"s":"b12","x":614,"y":55},{"s":"b12","x":616,"y":46},{"s":"b12","x":618,"y":60},{"s":"b12","x":620,"y":53},{"s":"b12","x":622,"y":65},{"s":"b12","x":624,"y":50},{"s":"b12","x":626,"y":58},{"s":"b12","x":628,"y":62},{"s":"b12","x":630,"y":51},{"s":"b12","x":632,"y":66},{"s":"b12","x":634,"y":56},{"s":"b12","x":636,"y":63},{"s":"b12","x":638,"y":52},{"s":"b12","x":640,"y":68},{"s":"b12","x":642,"y":57},{"s":"b12","x":644,"y":64},{"s":"b12","x":646,"y":55},{"s":"b12","x":648,"y":69},{"s":"b12","x":650,"y":62}
],
"C":[
{"s":"c01","x":50,"y":365},{"s":"c01","x":60,"y":384},{"s":"c01","x":71,"y":395},{"s":"c01","x":78,"y":397},{"s":"c01","x":86,"y":397},{"s":"c01","x":93,"y":392},{"s":"c01","x":100,"y":390},{"s":"c01","x":110,"y":387},{"s":"c01","x":120,"y":380},{"s":"c01","x":130,"y":377},{"s":"c01","x":140,"y":376},{"s":"c01","x":151,"y":379},{"s":"c01","x":157,"y":387},{"s":"c01","x":163,"y":407},{"s":"c01","x":168,"y":392},{"s":"c01","x":175,"y":382},{"s":"c01","x":185,"y":375},{"s":"c01","x":202,"y":370},{"s":"c01","x":215,"y":372},{"s":"c01","x":231,"y":371},{"s":"c01","x":240,"y":376},{"s":"c01","x":246,"y":384},{"s":"c01","x":252,"y":376},{"s":"c01","x":259,"y":372},{"s":"c01","x":275,"y":372},{"s":"c01","x":289,"y":374},{"s":"c01","x":304,"y":382},{"s":"c01","x":315,"y":387},{"s":"c01","x":320,"y":392},{"s":"c01","x":325,"y":398},{"s":"c01","x":330,"y":405},{"s":"c01","x":335,"y":395},{"s":"c01","x":342,"y":380},{"s":"c01","x":355,"y":377},{"s":"c01","x":384,"y":374},{"s":"c01","x":420,"y":371},{"s":"c01","x":457,"y":369},{"s":"c01","x":490,"y":366},{"s":"c01","x":515,"y":364},{"s":"c01","x":540,"y":363},{"s":"c01","x":565,"y":363},{"s":"c01","x":577,"y":367},{"s":"c01","x":583,"y":370},{"s":"c01","x":590,"y":367},{"s":"c01","x":602,"y":364},{"s":"c01","x":639,"y":362},{"s":"c01","x":680,"y":361},{"s":"c01","x":711,"y":360},{"s":"c01","x":750,"y":361},{"s":"c01","x":784,"y":359},{"s":"c01","x":820,"y":360},{"s":"c01","x":857,"y":359},{"s":"c01","x":900,"y":358},{"s":"c01","x":950,"y":358},{"s":"c01","x":1000,"y":357},
{"s":"c02","x":50,"y":335},{"s":"c02","x":60,"y":352},{"s":"c02","x":71,"y":362},{"s":"c02","x":80,"y":367},{"s":"c02","x":88,"y":366},{"s":"c02","x":100,"y":359},{"s":"c02","x":110,"y":354},{"s":"c02","x":122,"y":347},{"s":"c02","x":135,"y":346},{"s":"c02","x":145,"y":349},{"s":"c02","x":152,"y":355},{"s":"c02","x":157,"y":362},{"s":"c02","x":163,"y":372},{"s":"c02","x":169,"y":359},{"s":"c02","x":178,"y":345},{"s":"c02","x":190,"y":338},{"s":"c02","x":202,"y":335},{"s":"c02","x":231,"y":336},{"s":"c02","x":240,"y":340},{"s":"c02","x":246,"y":347},{"s":"c02","x":252,"y":340},{"s":"c02","x":259,"y":337},{"s":"c02","x":289,"y":338},{"s":"c02","x":308,"y":345},{"s":"c02","x":318,"y":352},{"s":"c02","x":325,"y":362},{"s":"c02","x":330,"y":372},{"s":"c02","x":335,"y":362},{"s":"c02","x":342,"y":345},{"s":"c02","x":360,"y":342},{"s":"c02","x":384,"y":340},{"s":"c02","x":420,"y":338},{"s":"c02","x":457,"y":337},{"s":"c02","x":500,"y":335},{"s":"c02","x":530,"y":334},{"s":"c02","x":555,"y":334},{"s":"c02","x":570,"y":334},{"s":"c02","x":583,"y":336},{"s":"c02","x":592,"y":333},{"s":"c02","x":602,"y":330},{"s":"c02","x":640,"y":329},{"s":"c02","x":711,"y":327},{"s":"c02","x":784,"y":326},{"s":"c02","x":857,"y":325},{"s":"c02","x":930,"y":325},{"s":"c02","x":1000,"y":324},
{"s":"c03","x":50,"y":305},{"s":"c03","x":58,"y":322},{"s":"c03","x":66,"y":329},{"s":"c03","x":74,"y":337},{"s":"c03","x":80,"y":339},{"s":"c03","x":86,"y":335},{"s":"c03","x":95,"y":329},{"s":"c03","x":105,"y":324},{"s":"c03","x":115,"y":318},{"s":"c03","x":130,"y":312},{"s":"c03","x":142,"y":317},{"s":"c03","x":150,"y":324},{"s":"c03","x":156,"y":328},{"s":"c03","x":163,"y":329},{"s":"c03","x":170,"y":322},{"s":"c03","x":178,"y":314},{"s":"c03","x":190,"y":307},{"s":"c03","x":205,"y":302},{"s":"c03","x":231,"y":302},{"s":"c03","x":240,"y":305},{"s":"c03","x":246,"y":307},{"s":"c03","x":252,"y":302},{"s":"c03","x":262,"y":300},{"s":"c03","x":290,"y":302},{"s":"c03","x":304,"y":305},{"s":"c03","x":315,"y":310},{"s":"c03","x":322,"y":317},{"s":"c03","x":330,"y":324},{"s":"c03","x":336,"y":318},{"s":"c03","x":344,"y":307},{"s":"c03","x":360,"y":304},{"s":"c03","x":384,"y":299},{"s":"c03","x":420,"y":297},{"s":"c03","x":457,"y":294},{"s":"c03","x":500,"y":293},{"s":"c03","x":530,"y":292},{"s":"c03","x":555,"y":292},{"s":"c03","x":570,"y":292},{"s":"c03","x":583,"y":295},{"s":"c03","x":595,"y":291},{"s":"c03","x":640,"y":290},{"s":"c03","x":700,"y":291},{"s":"c03","x":784,"y":290},{"s":"c03","x":857,"y":291},{"s":"c03","x":930,"y":292},{"s":"c03","x":1000,"y":292},
{"s":"c04","x":50,"y":272},{"s":"c04","x":57,"y":287},{"s":"c04","x":64,"y":295},{"s":"c04","x":72,"y":302},{"s":"c04","x":78,"y":304},{"s":"c04","x":86,"y":299},{"s":"c04","x":95,"y":295},{"s":"c04","x":110,"y":287},{"s":"c04","x":129,"y":282},{"s":"c04","x":140,"y":280},{"s":"c04","x":155,"y":276},{"s":"c04","x":163,"y":277},{"s":"c04","x":175,"y":272},{"s":"c04","x":202,"y":262},{"s":"c04","x":231,"y":265},{"s":"c04","x":240,"y":267},{"s":"c04","x":246,"y":269},{"s":"c04","x":252,"y":265},{"s":"c04","x":257,"y":264},{"s":"c04","x":290,"y":268},{"s":"c04","x":310,"y":270},{"s":"c04","x":322,"y":273},{"s":"c04","x":330,"y":275},{"s":"c04","x":340,"y":272},{"s":"c04","x":366,"y":269},{"s":"c04","x":420,"y":262},{"s":"c04","x":490,"y":257},{"s":"c04","x":560,"y":260},{"s":"c04","x":583,"y":262},{"s":"c04","x":602,"y":257},{"s":"c04","x":700,"y":259},{"s":"c04","x":784,"y":260},{"s":"c04","x":857,"y":262},{"s":"c04","x":930,"y":265},{"s":"c04","x":1000,"y":269},
{"s":"c05","x":50,"y":235},{"s":"c05","x":57,"y":250},{"s":"c05","x":64,"y":259},{"s":"c05","x":70,"y":268},{"s":"c05","x":76,"y":270},{"s":"c05","x":85,"y":264},{"s":"c05","x":100,"y":259},{"s":"c05","x":129,"y":249},{"s":"c05","x":145,"y":242},{"s":"c05","x":163,"y":240},{"s":"c05","x":202,"y":232},{"s":"c05","x":224,"y":229},{"s":"c05","x":240,"y":232},{"s":"c05","x":246,"y":235},{"s":"c05","x":252,"y":232},{"s":"c05","x":257,"y":230},{"s":"c05","x":289,"y":234},{"s":"c05","x":304,"y":237},{"s":"c05","x":318,"y":239},{"s":"c05","x":330,"y":240},{"s":"c05","x":340,"y":236},{"s":"c05","x":384,"y":232},{"s":"c05","x":457,"y":229},{"s":"c05","x":530,"y":224},{"s":"c05","x":583,"y":225},{"s":"c05","x":602,"y":223},{"s":"c05","x":639,"y":222},{"s":"c05","x":711,"y":222},{"s":"c05","x":784,"y":222},{"s":"c05","x":857,"y":223},{"s":"c05","x":930,"y":223},{"s":"c05","x":1000,"y":224},
{"s":"c06","x":50,"y":209},{"s":"c06","x":57,"y":224},{"s":"c06","x":64,"y":232},{"s":"c06","x":72,"y":237},{"s":"c06","x":78,"y":236},{"s":"c06","x":86,"y":229},{"s":"c06","x":100,"y":224},{"s":"c06","x":129,"y":217},{"s":"c06","x":150,"y":212},{"s":"c06","x":166,"y":209},{"s":"c06","x":202,"y":199},{"s":"c06","x":224,"y":195},{"s":"c06","x":240,"y":199},{"s":"c06","x":246,"y":202},{"s":"c06","x":252,"y":199},{"s":"c06","x":257,"y":199},{"s":"c06","x":289,"y":200},{"s":"c06","x":304,"y":202},{"s":"c06","x":318,"y":205},{"s":"c06","x":330,"y":207},{"s":"c06","x":340,"y":204},{"s":"c06","x":370,"y":200},{"s":"c06","x":420,"y":195},{"s":"c06","x":490,"y":190},{"s":"c06","x":560,"y":189},{"s":"c06","x":583,"y":190},{"s":"c06","x":602,"y":187},{"s":"c06","x":700,"y":187},{"s":"c06","x":784,"y":187},{"s":"c06","x":857,"y":188},{"s":"c06","x":930,"y":188},{"s":"c06","x":1000,"y":189},
{"s":"c07","x":50,"y":182},{"s":"c07","x":58,"y":192},{"s":"c07","x":66,"y":199},{"s":"c07","x":74,"y":204},{"s":"c07","x":82,"y":202},{"s":"c07","x":90,"y":197},{"s":"c07","x":100,"y":194},{"s":"c07","x":129,"y":187},{"s":"c07","x":166,"y":180},{"s":"c07","x":202,"y":172},{"s":"c07","x":231,"y":169},{"s":"c07","x":240,"y":171},{"s":"c07","x":246,"y":172},{"s":"c07","x":252,"y":170},{"s":"c07","x":289,"y":171},{"s":"c07","x":304,"y":173},{"s":"c07","x":318,"y":175},{"s":"c07","x":330,"y":175},{"s":"c07","x":340,"y":173},{"s":"c07","x":384,"y":167},{"s":"c07","x":420,"y":164},{"s":"c07","x":490,"y":157},{"s":"c07","x":560,"y":156},{"s":"c07","x":583,"y":159},{"s":"c07","x":602,"y":155},{"s":"c07","x":700,"y":155},{"s":"c07","x":784,"y":154},{"s":"c07","x":857,"y":154},{"s":"c07","x":930,"y":153},{"s":"c07","x":1000,"y":153},
{"s":"c08","x":50,"y":139},{"s":"c08","x":58,"y":157},{"s":"c08","x":66,"y":165},{"s":"c08","x":74,"y":170},{"s":"c08","x":82,"y":169},{"s":"c08","x":90,"y":166},{"s":"c08","x":100,"y":164},{"s":"c08","x":115,"y":154},{"s":"c08","x":129,"y":150},{"s":"c08","x":145,"y":154},{"s":"c08","x":155,"y":160},{"s":"c08","x":160,"y":162},{"s":"c08","x":165,"y":160},{"s":"c08","x":175,"y":147},{"s":"c08","x":202,"y":140},{"s":"c08","x":231,"y":132},{"s":"c08","x":240,"y":135},{"s":"c08","x":246,"y":137},{"s":"c08","x":252,"y":135},{"s":"c08","x":257,"y":134},{"s":"c08","x":289,"y":139},{"s":"c08","x":304,"y":142},{"s":"c08","x":318,"y":149},{"s":"c08","x":326,"y":154},{"s":"c08","x":334,"y":147},{"s":"c08","x":347,"y":140},{"s":"c08","x":384,"y":132},{"s":"c08","x":457,"y":127},{"s":"c08","x":530,"y":122},{"s":"c08","x":565,"y":124},{"s":"c08","x":583,"y":125},{"s":"c08","x":602,"y":122},{"s":"c08","x":639,"y":121},{"s":"c08","x":711,"y":122},{"s":"c08","x":784,"y":122},{"s":"c08","x":857,"y":122},{"s":"c08","x":930,"y":121},{"s":"c08","x":1000,"y":122},
{"s":"c09","x":50,"y":92},{"s":"c09","x":57,"y":97},{"s":"c09","x":64,"y":114},{"s":"c09","x":71,"y":115},{"s":"c09","x":86,"y":115},{"s":"c09","x":100,"y":114},{"s":"c09","x":115,"y":110},{"s":"c09","x":129,"y":110},{"s":"c09","x":145,"y":117},{"s":"c09","x":152,"y":127},{"s":"c09","x":157,"y":135},{"s":"c09","x":163,"y":135},{"s":"c09","x":168,"y":127},{"s":"c09","x":176,"y":117},{"s":"c09","x":186,"y":109},{"s":"c09","x":220,"y":102},{"s":"c09","x":240,"y":105},{"s":"c09","x":246,"y":107},{"s":"c09","x":252,"y":104},{"s":"c09","x":257,"y":102},{"s":"c09","x":289,"y":106},{"s":"c09","x":304,"y":109},{"s":"c09","x":318,"y":117},{"s":"c09","x":326,"y":125},{"s":"c09","x":330,"y":127},{"s":"c09","x":335,"y":122},{"s":"c09","x":344,"y":112},{"s":"c09","x":366,"y":107},{"s":"c09","x":420,"y":102},{"s":"c09","x":490,"y":95},{"s":"c09","x":551,"y":90},{"s":"c09","x":575,"y":92},{"s":"c09","x":583,"y":94},{"s":"c09","x":602,"y":89},{"s":"c09","x":700,"y":89},{"s":"c09","x":784,"y":89},{"s":"c09","x":857,"y":89},{"s":"c09","x":930,"y":88},{"s":"c09","x":1000,"y":88},
{"s":"c10","x":50,"y":82},{"s":"c10","x":57,"y":87},{"s":"c10","x":64,"y":92},{"s":"c10","x":71,"y":95},{"s":"c10","x":86,"y":92},{"s":"c10","x":100,"y":89},{"s":"c10","x":115,"y":82},{"s":"c10","x":129,"y":77},{"s":"c10","x":143,"y":80},{"s":"c10","x":152,"y":89},{"s":"c10","x":157,"y":99},{"s":"c10","x":163,"y":104},{"s":"c10","x":168,"y":94},{"s":"c10","x":175,"y":80},{"s":"c10","x":186,"y":72},{"s":"c10","x":202,"y":62},{"s":"c10","x":231,"y":62},{"s":"c10","x":240,"y":66},{"s":"c10","x":246,"y":69},{"s":"c10","x":252,"y":65},{"s":"c10","x":257,"y":60},{"s":"c10","x":289,"y":65},{"s":"c10","x":300,"y":69},{"s":"c10","x":310,"y":72},{"s":"c10","x":318,"y":77},{"s":"c10","x":324,"y":87},{"s":"c10","x":330,"y":94},{"s":"c10","x":336,"y":84},{"s":"c10","x":344,"y":70},{"s":"c10","x":360,"y":65},{"s":"c10","x":384,"y":60},{"s":"c10","x":457,"y":57},{"s":"c10","x":530,"y":54},{"s":"c10","x":570,"y":56},{"s":"c10","x":583,"y":59},{"s":"c10","x":595,"y":56},{"s":"c10","x":639,"y":52},{"s":"c10","x":711,"y":51},{"s":"c10","x":784,"y":51},{"s":"c10","x":857,"y":50},{"s":"c10","x":930,"y":50},{"s":"c10","x":1000,"y":50},
{"s":"c11","x":50,"y":49},{"s":"c11","x":57,"y":54},{"s":"c11","x":64,"y":60},{"s":"c11","x":71,"y":62},{"s":"c11","x":80,"y":59},{"s":"c11","x":93,"y":57},{"s":"c11","x":110,"y":49},{"s":"c11","x":129,"y":40},{"s":"c11","x":143,"y":40},{"s":"c11","x":152,"y":52},{"s":"c11","x":157,"y":64},{"s":"c11","x":163,"y":70},{"s":"c11","x":168,"y":60},{"s":"c11","x":176,"y":44},{"s":"c11","x":186,"y":37},{"s":"c11","x":202,"y":29},{"s":"c11","x":231,"y":27},{"s":"c11","x":240,"y":32},{"s":"c11","x":246,"y":35},{"s":"c11","x":252,"y":30},{"s":"c11","x":262,"y":27},{"s":"c11","x":289,"y":29},{"s":"c11","x":300,"y":32},{"s":"c11","x":310,"y":35},{"s":"c11","x":318,"y":42},{"s":"c11","x":324,"y":56},{"s":"c11","x":330,"y":67},{"s":"c11","x":336,"y":54},{"s":"c11","x":344,"y":39},{"s":"c11","x":360,"y":34},{"s":"c11","x":384,"y":27},{"s":"c11","x":457,"y":25},{"s":"c11","x":530,"y":22},{"s":"c11","x":565,"y":21},{"s":"c11","x":577,"y":25},{"s":"c11","x":583,"y":27},{"s":"c11","x":590,"y":25},{"s":"c11","x":602,"y":22},{"s":"c11","x":711,"y":19},{"s":"c11","x":784,"y":19},{"s":"c11","x":857,"y":18},{"s":"c11","x":930,"y":17},{"s":"c11","x":1000,"y":17}
],
"CL":[
{"s":"c01","x":980,"y":374,"t":"298 K"},{"s":"c02","x":980,"y":340,"t":"373 K"},{"s":"c03","x":980,"y":305,"t":"423 K"},{"s":"c04","x":980,"y":280,"t":"473 K"},{"s":"c05","x":980,"y":242,"t":"523 K"},{"s":"c06","x":980,"y":205,"t":"573 K"},{"s":"c07","x":980,"y":172,"t":"598 K"},{"s":"c08","x":980,"y":139,"t":"573 K"},{"s":"c09","x":980,"y":104,"t":"473 K"},{"s":"c10","x":980,"y":67,"t":"373 K"},{"s":"c11","x":980,"y":30,"t":"298 K"}
],
"D":[
{"s":"d01","x":50,"y":394},{"s":"d01","x":56,"y":402},{"s":"d01","x":62,"y":407},{"s":"d01","x":68,"y":412},{"s":"d01","x":73,"y":409},{"s":"d01","x":78,"y":414},{"s":"d01","x":84,"y":415},{"s":"d01","x":90,"y":410},{"s":"d01","x":99,"y":406},{"s":"d01","x":106,"y":404},{"s":"d01","x":113,"y":402},{"s":"d01","x":124,"y":394},{"s":"d01","x":135,"y":385},{"s":"d01","x":146,"y":379},{"s":"d01","x":157,"y":374},{"s":"d01","x":178,"y":367},{"s":"d01","x":207,"y":365},{"s":"d01","x":243,"y":364},{"s":"d01","x":280,"y":365},{"s":"d01","x":294,"y":369},{"s":"d01","x":309,"y":366},{"s":"d01","x":322,"y":371},{"s":"d01","x":330,"y":374},{"s":"d01","x":340,"y":371},{"s":"d01","x":352,"y":367},{"s":"d01","x":390,"y":364},{"s":"d01","x":425,"y":360},{"s":"d01","x":460,"y":358},{"s":"d01","x":497,"y":355},{"s":"d01","x":519,"y":360},{"s":"d01","x":533,"y":365},{"s":"d01","x":543,"y":367},{"s":"d01","x":555,"y":362},{"s":"d01","x":570,"y":360},{"s":"d01","x":606,"y":357},{"s":"d01","x":660,"y":358},{"s":"d01","x":714,"y":359},{"s":"d01","x":780,"y":360},{"s":"d01","x":859,"y":359},{"s":"d01","x":930,"y":357},{"s":"d01","x":1000,"y":355},
{"s":"d02","x":50,"y":355},{"s":"d02","x":56,"y":362},{"s":"d02","x":62,"y":367},{"s":"d02","x":70,"y":372},{"s":"d02","x":80,"y":375},{"s":"d02","x":90,"y":369},{"s":"d02","x":99,"y":366},{"s":"d02","x":113,"y":360},{"s":"d02","x":124,"y":352},{"s":"d02","x":135,"y":344},{"s":"d02","x":157,"y":337},{"s":"d02","x":178,"y":336},{"s":"d02","x":207,"y":334},{"s":"d02","x":243,"y":333},{"s":"d02","x":280,"y":332},{"s":"d02","x":294,"y":335},{"s":"d02","x":309,"y":334},{"s":"d02","x":322,"y":337},{"s":"d02","x":330,"y":338},{"s":"d02","x":340,"y":336},{"s":"d02","x":352,"y":334},{"s":"d02","x":425,"y":329},{"s":"d02","x":497,"y":324},{"s":"d02","x":519,"y":325},{"s":"d02","x":533,"y":329},{"s":"d02","x":541,"y":332},{"s":"d02","x":548,"y":327},{"s":"d02","x":560,"y":322},{"s":"d02","x":606,"y":321},{"s":"d02","x":714,"y":320},{"s":"d02","x":780,"y":320},{"s":"d02","x":859,"y":319},{"s":"d02","x":930,"y":318},{"s":"d02","x":1000,"y":317},
{"s":"d03","x":50,"y":279},{"s":"d03","x":55,"y":290},{"s":"d03","x":62,"y":302},{"s":"d03","x":70,"y":317},{"s":"d03","x":77,"y":325},{"s":"d03","x":82,"y":332},{"s":"d03","x":88,"y":334},{"s":"d03","x":95,"y":329},{"s":"d03","x":104,"y":322},{"s":"d03","x":113,"y":320},{"s":"d03","x":124,"y":314},{"s":"d03","x":135,"y":309},{"s":"d03","x":157,"y":304},{"s":"d03","x":178,"y":302},{"s":"d03","x":207,"y":299},{"s":"d03","x":243,"y":298},{"s":"d03","x":280,"y":300},{"s":"d03","x":300,"y":302},{"s":"d03","x":318,"y":304},{"s":"d03","x":330,"y":306},{"s":"d03","x":340,"y":303},{"s":"d03","x":360,"y":301},{"s":"d03","x":425,"y":292},{"s":"d03","x":497,"y":285},{"s":"d03","x":519,"y":287},{"s":"d03","x":533,"y":290},{"s":"d03","x":540,"y":291},{"s":"d03","x":550,"y":286},{"s":"d03","x":570,"y":282},{"s":"d03","x":606,"y":277},{"s":"d03","x":660,"y":278},{"s":"d03","x":714,"y":277},{"s":"d03","x":780,"y":279},{"s":"d03","x":859,"y":280},{"s":"d03","x":930,"y":280},{"s":"d03","x":1000,"y":279},
{"s":"d04","x":50,"y":259},{"s":"d04","x":55,"y":272},{"s":"d04","x":62,"y":282},{"s":"d04","x":70,"y":292},{"s":"d04","x":77,"y":297},{"s":"d04","x":83,"y":301},{"s":"d04","x":88,"y":302},{"s":"d04","x":95,"y":297},{"s":"d04","x":104,"y":292},{"s":"d04","x":113,"y":287},{"s":"d04","x":124,"y":282},{"s":"d04","x":135,"y":277},{"s":"d04","x":157,"y":272},{"s":"d04","x":178,"y":269},{"s":"d04","x":207,"y":262},{"s":"d04","x":243,"y":260},{"s":"d04","x":280,"y":264},{"s":"d04","x":309,"y":266},{"s":"d04","x":330,"y":269},{"s":"d04","x":345,"y":266},{"s":"d04","x":366,"y":264},{"s":"d04","x":425,"y":255},{"s":"d04","x":497,"y":250},{"s":"d04","x":519,"y":252},{"s":"d04","x":536,"y":254},{"s":"d04","x":550,"y":250},{"s":"d04","x":570,"y":247},{"s":"d04","x":606,"y":246},{"s":"d04","x":714,"y":245},{"s":"d04","x":780,"y":245},{"s":"d04","x":859,"y":245},{"s":"d04","x":930,"y":247},{"s":"d04","x":1000,"y":249},
{"s":"d05","x":50,"y":210},{"s":"d05","x":56,"y":214},{"s":"d05","x":62,"y":219},{"s":"d05","x":65,"y":235},{"s":"d05","x":68,"y":252},{"s":"d05","x":73,"y":262},{"s":"d05","x":80,"y":264},{"s":"d05","x":88,"y":265},{"s":"d05","x":95,"y":262},{"s":"d05","x":104,"y":255},{"s":"d05","x":113,"y":249},{"s":"d05","x":124,"y":242},{"s":"d05","x":135,"y":239},{"s":"d05","x":157,"y":232},{"s":"d05","x":178,"y":229},{"s":"d05","x":207,"y":227},{"s":"d05","x":243,"y":225},{"s":"d05","x":280,"y":227},{"s":"d05","x":309,"y":230},{"s":"d05","x":330,"y":232},{"s":"d05","x":345,"y":229},{"s":"d05","x":366,"y":227},{"s":"d05","x":425,"y":219},{"s":"d05","x":497,"y":214},{"s":"d05","x":519,"y":215},{"s":"d05","x":536,"y":216},{"s":"d05","x":550,"y":213},{"s":"d05","x":570,"y":210},{"s":"d05","x":606,"y":209},{"s":"d05","x":714,"y":209},{"s":"d05","x":780,"y":210},{"s":"d05","x":859,"y":210},{"s":"d05","x":930,"y":212},{"s":"d05","x":1000,"y":214},
{"s":"d06","x":50,"y":174},{"s":"d06","x":55,"y":180},{"s":"d06","x":60,"y":192},{"s":"d06","x":66,"y":204},{"s":"d06","x":72,"y":212},{"s":"d06","x":80,"y":220},{"s":"d06","x":88,"y":225},{"s":"d06","x":95,"y":222},{"s":"d06","x":104,"y":219},{"s":"d06","x":113,"y":216},{"s":"d06","x":124,"y":212},{"s":"d06","x":135,"y":210},{"s":"d06","x":145,"y":210},{"s":"d06","x":152,"y":212},{"s":"d06","x":157,"y":214},{"s":"d06","x":162,"y":214},{"s":"d06","x":168,"y":210},{"s":"d06","x":178,"y":204},{"s":"d06","x":207,"y":197},{"s":"d06","x":243,"y":192},{"s":"d06","x":294,"y":195},{"s":"d06","x":310,"y":199},{"s":"d06","x":320,"y":203},{"s":"d06","x":327,"y":207},{"s":"d06","x":334,"y":204},{"s":"d06","x":345,"y":197},{"s":"d06","x":366,"y":194},{"s":"d06","x":425,"y":185},{"s":"d06","x":497,"y":177},{"s":"d06","x":519,"y":180},{"s":"d06","x":533,"y":182},{"s":"d06","x":545,"y":179},{"s":"d06","x":570,"y":175},{"s":"d06","x":606,"y":172},{"s":"d06","x":714,"y":175},{"s":"d06","x":787,"y":175},{"s":"d06","x":860,"y":177},{"s":"d06","x":932,"y":179},{"s":"d06","x":1000,"y":180},
{"s":"d07","x":50,"y":129},{"s":"d07","x":55,"y":142},{"s":"d07","x":60,"y":159},{"s":"d07","x":66,"y":172},{"s":"d07","x":72,"y":180},{"s":"d07","x":80,"y":184},{"s":"d07","x":88,"y":182},{"s":"d07","x":99,"y":177},{"s":"d07","x":113,"y":170},{"s":"d07","x":124,"y":167},{"s":"d07","x":135,"y":172},{"s":"d07","x":146,"y":180},{"s":"d07","x":155,"y":187},{"s":"d07","x":160,"y":189},{"s":"d07","x":166,"y":184},{"s":"d07","x":174,"y":175},{"s":"d07","x":186,"y":168},{"s":"d07","x":207,"y":157},{"s":"d07","x":243,"y":154},{"s":"d07","x":294,"y":160},{"s":"d07","x":310,"y":165},{"s":"d07","x":320,"y":174},{"s":"d07","x":327,"y":182},{"s":"d07","x":333,"y":178},{"s":"d07","x":342,"y":168},{"s":"d07","x":366,"y":162},{"s":"d07","x":425,"y":154},{"s":"d07","x":497,"y":147},{"s":"d07","x":519,"y":150},{"s":"d07","x":533,"y":154},{"s":"d07","x":545,"y":150},{"s":"d07","x":570,"y":145},{"s":"d07","x":606,"y":144},{"s":"d07","x":714,"y":146},{"s":"d07","x":787,"y":149},{"s":"d07","x":860,"y":154},{"s":"d07","x":932,"y":159},{"s":"d07","x":1000,"y":162},
{"s":"d08","x":50,"y":92},{"s":"d08","x":55,"y":94},{"s":"d08","x":60,"y":102},{"s":"d08","x":64,"y":127},{"s":"d08","x":68,"y":135},{"s":"d08","x":75,"y":142},{"s":"d08","x":82,"y":144},{"s":"d08","x":90,"y":139},{"s":"d08","x":99,"y":137},{"s":"d08","x":113,"y":132},{"s":"d08","x":124,"y":127},{"s":"d08","x":135,"y":132},{"s":"d08","x":146,"y":142},{"s":"d08","x":155,"y":150},{"s":"d08","x":160,"y":152},{"s":"d08","x":166,"y":146},{"s":"d08","x":174,"y":134},{"s":"d08","x":186,"y":127},{"s":"d08","x":207,"y":119},{"s":"d08","x":243,"y":114},{"s":"d08","x":294,"y":120},{"s":"d08","x":310,"y":127},{"s":"d08","x":320,"y":137},{"s":"d08","x":327,"y":146},{"s":"d08","x":333,"y":142},{"s":"d08","x":342,"y":132},{"s":"d08","x":366,"y":125},{"s":"d08","x":425,"y":117},{"s":"d08","x":497,"y":110},{"s":"d08","x":519,"y":114},{"s":"d08","x":533,"y":117},{"s":"d08","x":545,"y":114},{"s":"d08","x":570,"y":109},{"s":"d08","x":606,"y":110},{"s":"d08","x":714,"y":110},{"s":"d08","x":787,"y":114},{"s":"d08","x":860,"y":120},{"s":"d08","x":932,"y":124},{"s":"d08","x":1000,"y":129},
{"s":"d09","x":50,"y":79},{"s":"d09","x":56,"y":90},{"s":"d09","x":62,"y":100},{"s":"d09","x":70,"y":102},{"s":"d09","x":78,"y":100},{"s":"d09","x":88,"y":97},{"s":"d09","x":99,"y":92},{"s":"d09","x":113,"y":84},{"s":"d09","x":124,"y":79},{"s":"d09","x":135,"y":82},{"s":"d09","x":145,"y":92},{"s":"d09","x":152,"y":104},{"s":"d09","x":158,"y":112},{"s":"d09","x":164,"y":114},{"s":"d09","x":170,"y":102},{"s":"d09","x":178,"y":89},{"s":"d09","x":190,"y":80},{"s":"d09","x":207,"y":72},{"s":"d09","x":243,"y":67},{"s":"d09","x":294,"y":72},{"s":"d09","x":310,"y":79},{"s":"d09","x":320,"y":92},{"s":"d09","x":327,"y":104},{"s":"d09","x":332,"y":109},{"s":"d09","x":337,"y":102},{"s":"d09","x":345,"y":87},{"s":"d09","x":366,"y":75},{"s":"d09","x":425,"y":69},{"s":"d09","x":497,"y":60},{"s":"d09","x":515,"y":64},{"s":"d09","x":527,"y":70},{"s":"d09","x":535,"y":72},{"s":"d09","x":545,"y":67},{"s":"d09","x":556,"y":60},{"s":"d09","x":606,"y":57},{"s":"d09","x":714,"y":59},{"s":"d09","x":787,"y":59},{"s":"d09","x":860,"y":59},{"s":"d09","x":932,"y":60},{"s":"d09","x":1000,"y":60},
{"s":"d10","x":50,"y":52},{"s":"d10","x":56,"y":60},{"s":"d10","x":62,"y":67},{"s":"d10","x":70,"y":66},{"s":"d10","x":78,"y":64},{"s":"d10","x":88,"y":60},{"s":"d10","x":99,"y":54},{"s":"d10","x":113,"y":52},{"s":"d10","x":124,"y":47},{"s":"d10","x":135,"y":40},{"s":"d10","x":143,"y":42},{"s":"d10","x":150,"y":52},{"s":"d10","x":156,"y":67},{"s":"d10","x":161,"y":76},{"s":"d10","x":166,"y":70},{"s":"d10","x":172,"y":54},{"s":"d10","x":180,"y":44},{"s":"d10","x":200,"y":34},{"s":"d10","x":243,"y":29},{"s":"d10","x":280,"y":29},{"s":"d10","x":294,"y":35},{"s":"d10","x":304,"y":37},{"s":"d10","x":312,"y":39},{"s":"d10","x":320,"y":52},{"s":"d10","x":327,"y":64},{"s":"d10","x":333,"y":69},{"s":"d10","x":339,"y":60},{"s":"d10","x":347,"y":44},{"s":"d10","x":360,"y":39},{"s":"d10","x":400,"y":34},{"s":"d10","x":425,"y":32},{"s":"d10","x":460,"y":31},{"s":"d10","x":497,"y":29},{"s":"d10","x":515,"y":27},{"s":"d10","x":527,"y":32},{"s":"d10","x":537,"y":35},{"s":"d10","x":545,"y":32},{"s":"d10","x":556,"y":25},{"s":"d10","x":578,"y":22},{"s":"d10","x":606,"y":20},{"s":"d10","x":660,"y":20},{"s":"d10","x":714,"y":19},{"s":"d10","x":787,"y":20},{"s":"d10","x":860,"y":19},{"s":"d10","x":932,"y":19},{"s":"d10","x":1000,"y":19}
],
"DL":[
{"s":"d01","x":981,"y":375,"t":"298 K"},{"s":"d02","x":981,"y":335,"t":"373 K"},{"s":"d03","x":981,"y":297,"t":"473 K"},{"s":"d04","x":981,"y":255,"t":"573 K"},{"s":"d05","x":981,"y":229,"t":"548 K"},{"s":"d06","x":981,"y":195,"t":"523 K"},{"s":"d07","x":981,"y":167,"t":"498 K"},{"s":"d08","x":981,"y":139,"t":"473 K"},{"s":"d09","x":981,"y":79,"t":"373 K"},{"s":"d10","x":981,"y":32,"t":"298 K"}
]
},
"concat":[
{
"width":514,"height":420,
"encoding":{
"x":{"field":"x","type":"quantitative","scale":{"domain":[50,1000],"nice":false,"zero":false},
"axis":{"title":"Wavenumber/cm⁻¹","format":"d","values":[100,200,300,400,500,600,700,800,900,1000],"labelExpr":"datum.value % 200 === 0 ? datum.label : ''","tickSize":-7,"tickWidth":1.5,"tickColor":"#333","labelPadding":19,"labelFontSize":20,"titleFontSize":20,"titlePadding":3,"labelFlush":false,"labelOverlap":false,"domain":false}},
"y":{"field":"y","type":"quantitative","scale":{"domain":[0,420],"nice":false,"zero":false},
"axis":{"title":"Raman Intensity/a.u.","labels":false,"ticks":false,"domain":false,"titlePadding":22,"titleFontSize":19}}
},
"layer":[
{"data":{"name":"A"},"mark":{"type":"line","strokeWidth":1.7,"clip":true},
"encoding":{"stroke":{"field":"s","type":"nominal","legend":null,"scale":{"domain":["a01","a02","a03","a04","a05","a06","a07","a08","a09","a10","a11","a12"],"range":["#EE6F50","#1E1E8C","#1E8C1E","#EE4B55","#8C1A1A","#1E1E8C","#999920","#EE1EEE","#1E8C8C","#1E1EEE","#EE1E1E","#111111"]}}}},
{"data":{"name":"AL"},"mark":{"type":"text","align":"right","baseline":"middle","fontSize":17},
"encoding":{"text":{"field":"t"},"fill":{"field":"s","type":"nominal","legend":null,"scale":{"domain":["a01","a02","a03","a04","a05","a06","a07","a08","a09","a10","a11","a12"],"range":["#EE6F50","#1E1E8C","#1E8C1E","#EE4B55","#8C1A1A","#1E1E8C","#999920","#EE1EEE","#1E8C8C","#111111","#111111","#111111"]}}}},
{"data":{"values":[{"t":"(a)","x":-90,"y":376}]},"mark":{"type":"text","align":"left","baseline":"alphabetic","fontSize":40,"color":"#111"},
"encoding":{"text":{"field":"t"}}}
]
},
{
"width":243,"height":420,
"encoding":{
"x":{"field":"x","type":"quantitative","scale":{"domain":[500,650],"nice":false,"zero":false},
"axis":{"title":"Wavenumber/cm⁻¹","format":"d","values":[500,525,550,575,600,625,650],"labelExpr":"datum.value % 50 === 0 ? datum.label : ''","tickSize":-7,"tickWidth":1.5,"tickColor":"#333","labelPadding":18,"labelFontSize":17,"titleFontSize":16,"titlePadding":3,"labelFlush":false,"labelOverlap":false,"domain":false}},
"y":{"field":"y","type":"quantitative","scale":{"domain":[0,421],"nice":false,"zero":false},
"axis":{"title":"Raman Intensity/a.u.","labels":false,"ticks":false,"domain":false,"titlePadding":12,"titleFontSize":19}}
},
"layer":[
{"data":{"name":"B"},"mark":{"type":"line","strokeWidth":1.6,"clip":true},
"encoding":{"stroke":{"field":"s","type":"nominal","legend":null,"scale":{"domain":["b01","b02","b03","b04","b05","b06","b07","b08","b09","b10","b11","b12"],"range":["#EE6F50","#1E1E8C","#1E8C1E","#EE4B55","#8C1A1A","#1E1E8C","#999920","#EE1EEE","#1E8C8C","#1E1EEE","#EE1E1E","#111111"]}}}},
{"data":{"values":[{"t":"(b)","x":454,"y":375}]},"mark":{"type":"text","align":"left","baseline":"alphabetic","fontSize":40,"color":"#111"},
"encoding":{"text":{"field":"t"}}}
]
},
{
"width":534,"height":422,
"encoding":{
"x":{"field":"x","type":"quantitative","scale":{"domain":[50,1000],"nice":false,"zero":false},
"axis":{"title":"Wavenumber / cm⁻¹","format":"d","values":[100,200,300,400,500,600,700,800,900,1000],"labelExpr":"datum.value % 200 === 0 ? datum.label : ''","tickSize":-7,"tickWidth":1.5,"tickColor":"#333","labelPadding":19,"labelFontSize":22,"titleFontSize":21,"titlePadding":3,"labelFlush":false,"labelOverlap":false,"domain":false}},
"y":{"field":"y","type":"quantitative","scale":{"domain":[0,422],"nice":false,"zero":false},
"axis":{"title":"Raman Intensity/a.u.","labels":false,"ticks":false,"domain":false,"titlePadding":13,"titleFontSize":21}}
},
"layer":[
{"data":{"name":"C"},"mark":{"type":"line","strokeWidth":1.7,"clip":true},
"encoding":{"stroke":{"field":"s","type":"nominal","legend":null,"scale":{"domain":["c01","c02","c03","c04","c05","c06","c07","c08","c09","c10","c11"],"range":["#1E1E8C","#1E8C1E","#EE4B55","#8C1A1A","#1E1E8C","#999920","#EE1EEE","#1E8C8C","#1E1EEE","#EE1E1E","#111111"]}}}},
{"data":{"name":"CL"},"mark":{"type":"text","align":"right","baseline":"middle","fontSize":18},
"encoding":{"text":{"field":"t"},"fill":{"field":"s","type":"nominal","legend":null,"scale":{"domain":["c01","c02","c03","c04","c05","c06","c07","c08","c09","c10","c11"],"range":["#1E1E8C","#1E8C1E","#EE4B55","#8C1A1A","#1E1E8C","#999920","#EE1EEE","#1E8C8C","#1E1EEE","#EE1E1E","#111111"]}}}},
{"data":{"values":[{"t":"(c)","x":-85,"y":380}]},"mark":{"type":"text","align":"left","baseline":"alphabetic","fontSize":40,"color":"#111"},
"encoding":{"text":{"field":"t"}}}
]
},
{
"width":535,"height":422,
"encoding":{
"x":{"field":"x","type":"quantitative","scale":{"domain":[50,1000],"nice":false,"zero":false},
"axis":{"title":"Wavenumber / cm⁻¹","format":"d","values":[100,200,300,400,500,600,700,800,900,1000],"labelExpr":"datum.value % 200 === 0 ? datum.label : ''","tickSize":-7,"tickWidth":1.5,"tickColor":"#333","labelPadding":19,"labelFontSize":22,"titleFontSize":21,"titlePadding":3,"labelFlush":false,"labelOverlap":false,"domain":false}},
"y":{"field":"y","type":"quantitative","scale":{"domain":[0,422],"nice":false,"zero":false},
"axis":{"title":"Raman Intensity/a.u.","labels":false,"ticks":false,"domain":false,"titlePadding":19,"titleFontSize":21}}
},
"layer":[
{"data":{"name":"D"},"mark":{"type":"line","strokeWidth":1.7,"clip":true},
"encoding":{"stroke":{"field":"s","type":"nominal","legend":null,"scale":{"domain":["d01","d02","d03","d04","d05","d06","d07","d08","d09","d10"],"range":["#1E8C1E","#EE4B55","#8C1A1A","#1E1E8C","#999920","#EE1EEE","#1E8C8C","#1E1EEE","#EE1E1E","#111111"]}}}},
{"data":{"name":"DL"},"mark":{"type":"text","align":"right","baseline":"middle","fontSize":18},
"encoding":{"text":{"field":"t"},"fill":{"field":"s","type":"nominal","legend":null,"scale":{"domain":["d01","d02","d03","d04","d05","d06","d07","d08","d09","d10"],"range":["#1E8C1E","#EE4B55","#8C1A1A","#1E1E8C","#999920","#EE1EEE","#1E8C8C","#1E1EEE","#EE1E1E","#111111"]}}}},
{"data":{"values":[{"t":"(d)","x":-85,"y":379}]},"mark":{"type":"text","align":"left","baseline":"alphabetic","fontSize":40,"color":"#111"},
"encoding":{"text":{"field":"t"}}}
]
}
],
"config":{
"view":{"stroke":"#3a3a3a","strokeWidth":1.5},
"axis":{"labelFont":"DejaVu Sans","titleFont":"DejaVu Sans","labelFontWeight":"bold","titleFontWeight":"bold","labelColor":"#111","titleColor":"#111","grid":false},
"text":{"font":"DejaVu Sans","fontWeight":"bold"}
}
}
